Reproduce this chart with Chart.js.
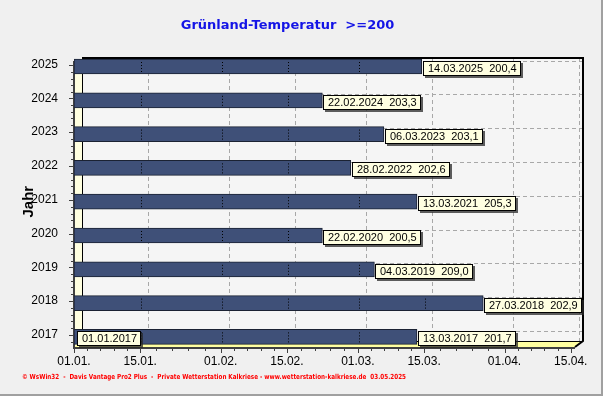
<!DOCTYPE html>
<html>
<head>
<meta charset="utf-8">
<script src="https://cdn.jsdelivr.net/npm/chart.js@4.4.1/dist/chart.umd.min.js"></script>
<style>
  html, body { margin: 0; padding: 0; background: #f0f0f0; }
  #wrap { width: 603px; height: 396px; }
</style>
</head>
<body>
<div id="wrap"><canvas id="myChart" width="603" height="396"></canvas></div>
<script>
// Grünland-Temperatur >= 200: Datum, an dem die Summe erreicht wurde

const years = ['2017', '2018', '2019', '2020', '2021', '2022', '2023', '2024', '2025'];
const reachedDates = ['13.03.2017', '27.03.2018', '04.03.2019', '22.02.2020', '13.03.2021',
                      '28.02.2022', '06.03.2023', '22.02.2024', '14.03.2025'];
const reachedValues = [201.7, 202.9, 209.0, 200.5, 205.3, 202.6, 203.1, 203.3, 200.4];
const xTickLabels = ['01.01.', '15.01.', '01.02.', '15.02.', '01.03.', '15.03.', '01.04.', '15.04.'];
const startLabel = '01.01.2017';
const footerText = '\u00a9 WsWin32  -  Davis Vantage Pro2 Plus  -  Private Wetterstation Kalkriese - www.wetterstation-kalkriese.de  03.05.2025';

// days since 01.01. (common leap-year calendar, like the axis)
function dayIndex(str) {
    const p = str.split('.');
    return (Date.UTC(2000, +p[1] - 1, +p[0]) - Date.UTC(2000, 0, 1)) / 86400000;
}
const xTickDays = xTickLabels.map(dayIndex);
// bars run to the middle of the day
const barEnds = reachedDates.map(d => dayIndex(d) + 0.5);

const DX = 8, DY = 6;          // 3d depth of the back wall
const FRONT_TOP = 64, FRONT_BOTTOM = 347;

const scene3d = {
    id: 'scene3d',
    beforeDraw(chart) {
        const ctx = chart.ctx;
        ctx.save();
        ctx.fillStyle = '#f0f0f0';
        ctx.fillRect(0, 0, chart.width, chart.height);
        ctx.fillStyle = '#a0a0a0';
        ctx.fillRect(chart.width - 2, 0, 2, chart.height);
        ctx.fillRect(0, chart.height - 2, chart.width, 2);
        ctx.restore();
    },
    beforeDatasetsDraw(chart) {
        const ctx = chart.ctx;
        const xs = chart.scales.x, ys = chart.scales.y;
        const L = xs.getPixelForValue(0), R = chart.chartArea.right;
        const T = FRONT_TOP, B = FRONT_BOTTOM;
        ctx.save();
        // back wall
        ctx.fillStyle = '#f5f5f5';
        ctx.fillRect(L + DX, T - DY, R - L, B - T);
        // left wall
        ctx.fillStyle = '#ffffe0';
        ctx.beginPath();
        ctx.moveTo(L, T); ctx.lineTo(L + DX, T - DY); ctx.lineTo(L + DX, B - DY); ctx.lineTo(L, B);
        ctx.closePath(); ctx.fill();
        // floor
        ctx.fillStyle = '#ffffa0';
        ctx.beginPath();
        ctx.moveTo(L, B); ctx.lineTo(L + DX, B - DY); ctx.lineTo(R + DX, B - DY); ctx.lineTo(R, B);
        ctx.closePath(); ctx.fill();

        // dashed grid on the back wall
        ctx.strokeStyle = '#a8a8a8';
        ctx.lineWidth = 1;
        ctx.setLineDash([4, 3]);
        xTickDays.forEach(d => {
            if (d <= 0) return;
            const x = Math.round(xs.getPixelForValue(d) + DX) + 0.5;
            ctx.beginPath(); ctx.moveTo(x, T - DY); ctx.lineTo(x, B - DY); ctx.stroke();
        });
        years.forEach((y, i) => {
            const py = Math.round(ys.getPixelForValue(i) - DY) + 0.5;
            ctx.beginPath(); ctx.moveTo(L + DX, py); ctx.lineTo(R + DX, py); ctx.stroke();
        });
        ctx.setLineDash([]);

        // wall edges
        ctx.strokeStyle = '#000';
        ctx.lineWidth = 2;
        ctx.beginPath();
        ctx.moveTo(L + DX, T - DY); ctx.lineTo(R + DX, T - DY); ctx.lineTo(R + DX, B - DY); ctx.lineTo(R, B);
        ctx.stroke();
        ctx.lineWidth = 1;
        ctx.beginPath();
        ctx.moveTo(L + DX + 0.5, T - DY); ctx.lineTo(L + DX + 0.5, B - DY + 0.5); ctx.lineTo(R + DX, B - DY + 0.5);
        ctx.stroke();

        // axes
        ctx.fillStyle = '#404040';
        ctx.fillRect(L - 1, T - 3, 2, B - T + 4);
        ctx.fillRect(L - 1, B, R - L + 1, 2);
        // y ticks
        const step = ys.getPixelForValue(0) - ys.getPixelForValue(1);
        years.forEach((y, i) => {
            const py = Math.round(ys.getPixelForValue(i) - 2);
            ctx.fillRect(L - 5, py, 4, 1);
            for (let k = 1; k < 5; k++) {
                const my = Math.round(py + k * step / 5);
                if (my < B) ctx.fillRect(L - 3, my, 2, 1);
            }
        });
        // x ticks
        xTickDays.forEach((d, i) => {
            const px = Math.round(xs.getPixelForValue(d));
            ctx.fillRect(px, B + 2, 1, 4);
            if (i < xTickDays.length - 1) {
                const nx = xs.getPixelForValue(xTickDays[i + 1]);
                for (let k = 1; k < 5; k++) {
                    ctx.fillRect(Math.round(px + k * (nx - px) / 5), B + 2, 1, 2);
                }
            }
        });
        ctx.restore();
    },
    afterDatasetsDraw(chart) {
        const ctx = chart.ctx;
        const xs = chart.scales.x;
        const meta = chart.getDatasetMeta(0);
        ctx.save();
        // dotted lines across the bars
        ctx.strokeStyle = '#000';
        ctx.lineWidth = 1;
        ctx.setLineDash([1, 2]);
        meta.data.forEach(bar => {
            const top = bar.y - bar.height / 2, bottom = bar.y + bar.height / 2;
            xTickDays.forEach(d => {
                if (d <= 0) return;
                const x = Math.round(xs.getPixelForValue(d)) + 1.5;
                if (x < bar.x - 3) {
                    ctx.beginPath(); ctx.moveTo(x, top + 3); ctx.lineTo(x, bottom - 1); ctx.stroke();
                }
            });
        });
        ctx.setLineDash([]);

        ctx.font = '11px "Liberation Sans", Arial, sans-serif';
        ctx.textBaseline = 'middle';
        function box(x, y, text) {
            const w = Math.round(ctx.measureText(text).width) + 9, h = 15;
            ctx.fillStyle = 'rgba(40,40,40,0.75)';
            ctx.fillRect(x + 2, y + 2, w, h);
            ctx.fillStyle = '#ffffe1';
            ctx.fillRect(x, y, w, h);
            ctx.strokeStyle = '#000';
            ctx.strokeRect(x + 0.5, y + 0.5, w - 1, h - 1);
            ctx.fillStyle = '#000';
            ctx.fillText(text, x + 5, y + h / 2 + 0.5);
        }
        meta.data.forEach((bar, i) => {
            const top = Math.round(bar.y - bar.height / 2);
            const txt = reachedDates[i] + '  ' + reachedValues[i].toFixed(1).replace('.', ',');
            box(Math.round(bar.x) + 1, top + 2, txt);
        });
        const first = meta.data[0];
        box(Math.round(first.base) + 3, Math.round(first.y - first.height / 2) + 2, startLabel);
        ctx.restore();
    },
    afterDraw(chart) {
        const ctx = chart.ctx;
        ctx.save();
        ctx.font = 'bold 7px "DejaVu Sans", sans-serif';
        ctx.fillStyle = '#ff0000';
        ctx.textBaseline = 'middle';
        const w = ctx.measureText(footerText).width;
        ctx.translate(22, 377);
        ctx.scale(384 / w, 1);
        ctx.fillText(footerText, 0, 0);
        ctx.restore();
    }
};

new Chart(document.getElementById('myChart'), {
    type: 'bar',
    data: {
        labels: years,
        datasets: [{
            data: barEnds,
            backgroundColor: '#3f5078',
            borderColor: '#1b2233',
            borderWidth: 1,
            borderSkipped: false,
            barThickness: 15
        }]
    },
    options: {
        indexAxis: 'y',
        responsive: false,
        animation: false,
        devicePixelRatio: 1,
        layout: { padding: { left: 0, right: 28, top: 0, bottom: 0 } },
        plugins: {
            legend: { display: false },
            tooltip: { enabled: false },
            title: {
                display: true,
                text: 'Grünland-Temperatur  >=200',
                color: '#1414e6',
                font: { family: '"DejaVu Sans", sans-serif', size: 13, weight: 'bold' },
                padding: { top: 18, bottom: 16 }
            }
        },
        scales: {
            x: {
                type: 'linear',
                min: 0,
                max: 105.9,
                grid: { display: false },
                border: { display: false },
                afterBuildTicks: scale => { scale.ticks = xTickDays.map(v => ({ value: v })); },
                afterFit: scale => { scale.height = 42.2; },
                ticks: {
                    autoSkip: false,
                    maxRotation: 0,
                    minRotation: 0,
                    padding: -7,
                    color: '#000',
                    font: { family: '"Liberation Sans", Arial, sans-serif', size: 12 },
                    callback: (value, index) => xTickLabels[index]
                }
            },
            y: {
                reverse: true,
                grid: { display: false },
                border: { display: false },
                afterFit: scale => { scale.width = 74; },
                ticks: {
                    padding: 8,
                    labelOffset: -2,
                    color: '#000',
                    font: { family: '"Liberation Sans", Arial, sans-serif', size: 12 }
                },
                title: {
                    display: true,
                    text: 'Jahr',
                    color: '#000',
                    font: { family: '"Liberation Sans", Arial, sans-serif', size: 15, weight: 'bold' },
                    padding: { top: 20, bottom: 0 }
                }
            }
        }
    },
    plugins: [scene3d]
});
</script>
</body>
</html>
